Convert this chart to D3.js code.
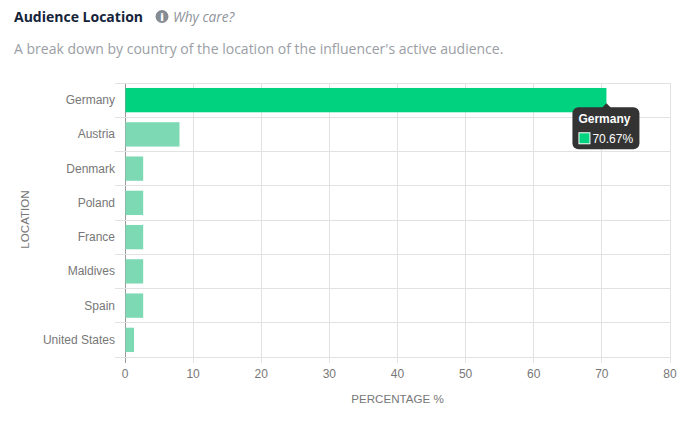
<!DOCTYPE html>
<html>
<head>
<meta charset="utf-8">
<script src="https://cdn.jsdelivr.net/npm/d3@7"></script>
<style>
  html, body { margin: 0; padding: 0; background: #fff; }
  svg { display: block; }
  .head { font-family: "Open Sans", sans-serif; }
  .chart text { font-family: "Liberation Sans", Arial, sans-serif; }
</style>
</head>
<body>
<svg id="chart" width="696" height="423"></svg>
<script>
const locations = ['Germany', 'Austria', 'Denmark', 'Poland', 'France', 'Maldives', 'Spain', 'United States'];
const percentages = [70.67, 8, 2.67, 2.67, 2.67, 2.67, 2.67, 1.33];
const xTicks = [0, 10, 20, 30, 40, 50, 60, 70, 80];
const activeLocation = 'Germany';

const svg = d3.select('#chart');

// Header
svg.append('text').attr('class', 'head')
  .attr('x', 14).attr('y', 22)
  .attr('font-size', 14).attr('font-weight', 700).attr('fill', '#14233a')
  .text('Audience Location');

svg.append('circle').attr('cx', 162).attr('cy', 16.5).attr('r', 6.5).attr('fill', '#868c94');
svg.append('text').attr('class', 'head')
  .attr('x', 162).attr('y', 20.5).attr('text-anchor', 'middle')
  .attr('font-size', 11).attr('font-weight', 800).attr('fill', '#fff')
  .text('i');

svg.append('text').attr('class', 'head')
  .attr('x', 173).attr('y', 22)
  .attr('font-size', 13.7).attr('font-style', 'italic').attr('fill', '#8f949b')
  .text('Why care?');

svg.append('text').attr('class', 'head')
  .attr('x', 14).attr('y', 54)
  .attr('font-size', 14).attr('fill', '#9a9ea5')
  .text("A break down by country of the location of the influencer's active audience.");

// Scales
const margin = { top: 83, right: 26, bottom: 66, left: 125 };
const x = d3.scaleLinear().domain([0, 80]).range([margin.left, 696 - margin.right]);
const rowEdge = d3.scaleBand().domain(locations).range([margin.top, 423 - margin.bottom]);
const y = d3.scaleBand().domain(locations).range([margin.top, 423 - margin.bottom]).paddingInner(0.29).paddingOuter(0.145);

const g = svg.append('g').attr('class', 'chart');

// Grid
g.append('g').selectAll('line').data(xTicks).join('line')
  .attr('x1', (d) => x(d)).attr('x2', (d) => x(d))
  .attr('y1', margin.top).attr('y2', 423 - margin.bottom + 6)
  .attr('stroke', (d) => d === 0 ? '#9a9a9a' : '#e2e2e2')
  .attr('shape-rendering', 'crispEdges');

const rowLines = locations.map((d) => rowEdge(d)).concat([423 - margin.bottom]);
g.append('g').selectAll('line').data(rowLines).join('line')
  .attr('x1', margin.left - 10).attr('x2', 696 - margin.right)
  .attr('y1', (d) => d).attr('y2', (d) => d)
  .attr('stroke', '#e2e2e2')
  .attr('shape-rendering', 'crispEdges');

// Bars
g.append('g').selectAll('rect').data(locations).join('rect')
  .attr('x', x(0) + 0.5)
  .attr('y', (d) => y(d))
  .attr('width', (d, i) => x(percentages[i]) - x(0) - 0.5)
  .attr('height', y.bandwidth())
  .attr('fill', (d) => d === activeLocation ? '#00d27f' : '#7dd9b4');

// Tick labels
g.append('g').selectAll('text').data(locations).join('text')
  .attr('x', margin.left - 10)
  .attr('y', (d) => rowEdge(d) + rowEdge.bandwidth() / 2 + 4)
  .attr('text-anchor', 'end')
  .attr('font-size', 12).attr('fill', '#777')
  .text((d) => d);

g.append('g').selectAll('text').data(xTicks).join('text')
  .attr('x', (d) => x(d))
  .attr('y', 423 - margin.bottom + 21)
  .attr('text-anchor', 'middle')
  .attr('font-size', 12).attr('fill', '#777')
  .text((d) => d);

// Axis titles
g.append('text')
  .attr('transform', `translate(29,${(margin.top + 423 - margin.bottom) / 2 - 0.5}) rotate(-90)`)
  .attr('text-anchor', 'middle')
  .attr('font-size', 11.6).attr('fill', '#777')
  .text('LOCATION');

g.append('text')
  .attr('x', (margin.left + 696 - margin.right) / 2)
  .attr('y', 403)
  .attr('text-anchor', 'middle')
  .attr('font-size', 11.6).attr('fill', '#777')
  .text('PERCENTAGE %');

// Tooltip on the active bar
const activeIndex = locations.indexOf(activeLocation);
const tipX = x(percentages[activeIndex]);
const tipY = y(activeLocation) + y.bandwidth() - 9;
const tip = g.append('g').attr('transform', `translate(${tipX},${tipY})`);

tip.append('path').attr('d', 'M0,0 L5,5 L-5,5 Z').attr('fill', '#333');
tip.append('rect')
  .attr('x', -34).attr('y', 4).attr('width', 67).attr('height', 42).attr('rx', 6)
  .attr('fill', '#333');
tip.append('text')
  .attr('x', -28).attr('y', 20)
  .attr('font-size', 12).attr('font-weight', 700).attr('fill', '#fff')
  .text(activeLocation);
tip.append('rect')
  .attr('x', -27.5).attr('y', 29.5).attr('width', 11).attr('height', 11)
  .attr('fill', '#00d27f').attr('stroke', '#fff').attr('stroke-width', 1);
tip.append('text')
  .attr('x', -14).attr('y', 39.5)
  .attr('font-size', 12).attr('fill', '#fff')
  .text(`${percentages[activeIndex]}%`);
</script>
</body>
</html>
